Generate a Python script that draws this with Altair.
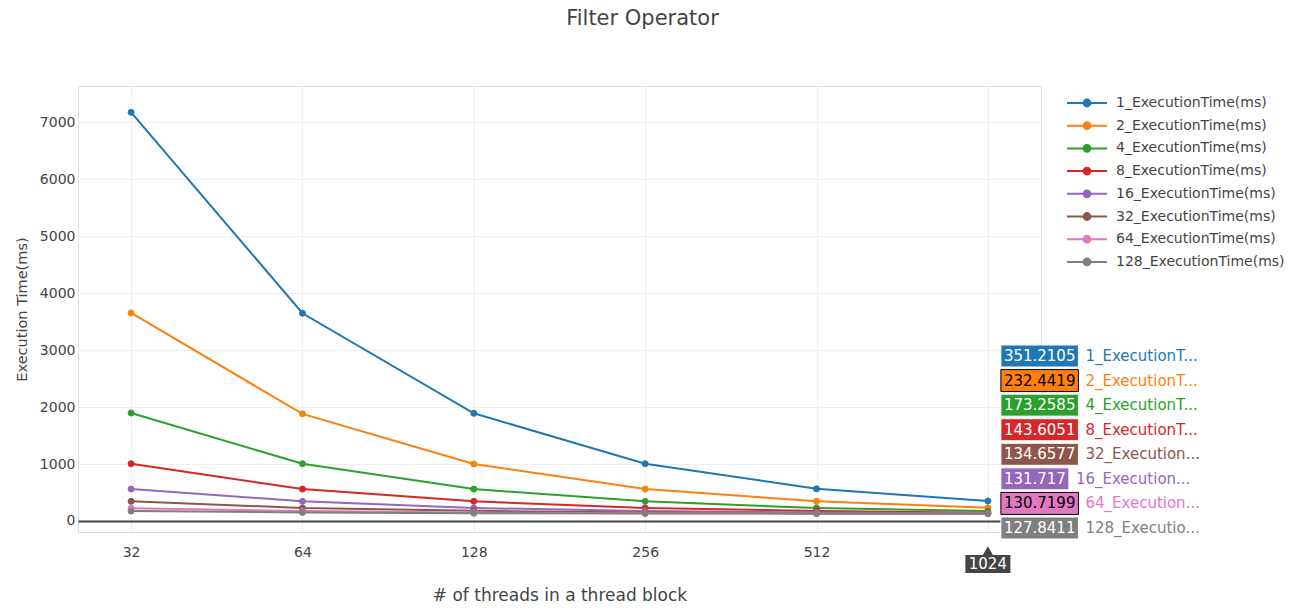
import altair as alt
import pandas as pd

chart_title = "Filter Operator"
x_title = "# of threads in a thread block"
y_title = "Execution Time(ms)"

threads = ["32", "64", "128", "256", "512", "1024"]
series = [
    "1_ExecutionTime(ms)", "2_ExecutionTime(ms)", "4_ExecutionTime(ms)",
    "8_ExecutionTime(ms)", "16_ExecutionTime(ms)", "32_ExecutionTime(ms)",
    "64_ExecutionTime(ms)", "128_ExecutionTime(ms)",
]
colors = ["#1f77b4", "#ff7f0e", "#2ca02c", "#d62728",
          "#9467bd", "#8c564b", "#e377c2", "#7f7f7f"]

v1 = [7170, 3645, 1890, 1005, 565, 351.2105]
v2 = [3650, 1880, 1000, 560, 345, 232.4419]
v4 = [1895, 1005, 560, 345, 228, 173.2585]
v8 = [1005, 560, 345, 230, 175, 143.6051]
v16 = [560, 345, 228, 175, 148, 131.717]
v32 = [345, 228, 178, 150, 138, 134.6577]
v64 = [225, 175, 148, 138, 133, 130.7199]
v128 = [175, 150, 138, 132, 129, 127.8411]
values = [v1, v2, v4, v8, v16, v32, v64, v128]

y_ticks = [0, 1000, 2000, 3000, 4000, 5000, 6000, 7000]

FONT = "DejaVu Sans"
TXT = "#444"
W, H = 963, 446

rows = []
for s, vals in zip(series, values):
    for t, v in zip(threads, vals):
        rows.append({"series": s, "threads": t, "time": v})
df = pd.DataFrame(rows)

# hover labels at the last x category (stacked by value)
last = threads[-1]
entries = sorted(zip(series, [v[-1] for v in values], colors), key=lambda r: r[1])
hrows = []
for slot, (s, v, c) in enumerate(entries):
    r, g, b = int(c[1:3], 16), int(c[3:5], 16), int(c[5:7], 16)
    light = (r * 299 + g * 587 + b * 114) / 1000 >= 128
    hrows.append({
        "threads": last, "slot": slot, "label": str(v),
        "name": s if len(s) <= 15 else s[:12] + "...",
        "color": c, "tcolor": "#000000" if light else "#ffffff",
    })
hdf = pd.DataFrame(hrows)

x_enc = alt.X(
    "threads:O", sort=threads,
    scale=alt.Scale(type="point", padding=0.31),
    axis=alt.Axis(
        title=x_title, labelAngle=0, labelFont=FONT, labelFontSize=14,
        labelColor=TXT, labelPadding=13, ticks=False, domain=False,
        gridColor="#eee", grid=True,
        labelExpr="datum.label == '1024' ? '' : datum.label",
        titleFont=FONT, titleFontSize=17, titleFontWeight="normal",
        titleColor=TXT, titlePadding=28,
    ),
)
y_enc = alt.Y(
    "time:Q",
    scale=alt.Scale(domain=[-193, 7632], nice=False, zero=False),
    axis=alt.Axis(
        title=y_title, values=y_ticks, format="d", labelFont=FONT, labelFontSize=14,
        labelColor=TXT, labelPadding=3, ticks=False, domain=False,
        gridColor={"condition": {"test": "datum.value === 0", "value": "#444"}, "value": "#eee"},
        gridWidth={"condition": {"test": "datum.value === 0", "value": 2}, "value": 1},
        titleFont=FONT, titleFontSize=14.5, titleFontWeight="normal",
        titleColor=TXT, titlePadding=10,
    ),
)

sym = ("M-5,0L5,0M-0.85,0A0.85,0.85 0 1,0 0.85,0"
       "A0.85,0.85 0 1,0 -0.85,0Z")
leg = alt.Legend(
    title=None, orient="none", legendX=1002, legendY=10,
    symbolType=sym, symbolSize=64, symbolStrokeWidth=2,
    labelFont=FONT, labelFontSize=14, labelColor=TXT, labelOffset=22,
    labelLimit=0, rowPadding=6.7, padding=0,
)
cscale = alt.Scale(domain=series, range=colors)

lines = alt.Chart(df).mark_line(strokeWidth=2).encode(
    x=x_enc, y=y_enc,
    stroke=alt.Stroke("series:N", scale=cscale, legend=leg),
)
points = alt.Chart(df).mark_point(filled=True, size=36, strokeWidth=1, opacity=1).encode(
    x=x_enc, y=y_enc,
    fill=alt.Fill("series:N", scale=cscale, legend=leg),
    stroke=alt.Stroke("series:N", scale=cscale, legend=leg),
)
main = alt.layer(lines, points)

slot_y = alt.Y("slot:Q", scale=alt.Scale(domain=[-0.163, 17.99], nice=False, zero=False), axis=None)
hbase = alt.Chart(hdf).transform_calculate(
    bw="(length(datum.label) - 1) * 9.54 + 4.77 + 6"
)
hx = alt.X("threads:O", sort=threads)
boxes = hbase.mark_rect(
    xOffset=13, x2Offset={"expr": "13 + datum.bw"}, height=22, strokeWidth=1
).encode(
    x=hx, x2=alt.X2("threads"), y=slot_y,
    fill=alt.Fill("color:N", scale=None),
    stroke=alt.Stroke("tcolor:N", scale=None),
)
vals_txt = hbase.mark_text(
    align="left", baseline="middle", dx=16, font=FONT, fontSize=15
).encode(x=hx, y=slot_y, text="label:N", color=alt.Color("tcolor:N", scale=None))
names_txt = hbase.mark_text(
    align="left", baseline="middle", dx={"expr": "20 + datum.bw"}, font=FONT, fontSize=15
).encode(x=hx, y=slot_y, text="name:N", color=alt.Color("color:N", scale=None))

xl = alt.Chart(pd.DataFrame({"threads": [last]}))
xbox = xl.mark_rect(width=45, height=18, fill="#444").encode(x=hx, y=alt.value(H + 32))
xarrow = xl.mark_point(shape="triangle-up", filled=True, size=120, color="#444", opacity=1).encode(
    x=hx, y=alt.value(H + 19))
xtxt = xl.mark_text(color="#fff", font=FONT, fontSize=15, baseline="middle").encode(
    x=hx, y=alt.value(H + 32), text="threads:O")

labels = alt.layer(boxes, vals_txt, names_txt, xarrow, xbox, xtxt)

chart = alt.layer(main, labels).resolve_scale(y="independent").properties(
    width=W, height=H,
    autosize=alt.AutoSizeParams(type="none"),
    padding={"left": 78, "top": 86, "right": 264, "bottom": 78},
    title=alt.TitleParams(
        text=chart_title, font=FONT, fontSize=21, fontWeight="normal",
        color=TXT, anchor="middle", dx=83, offset=57,
    ),
).configure_view(stroke=None, strokeWidth=0).configure(background="white")

chart.save("out.html", embed_options={"renderer": "svg", "actions": False})
